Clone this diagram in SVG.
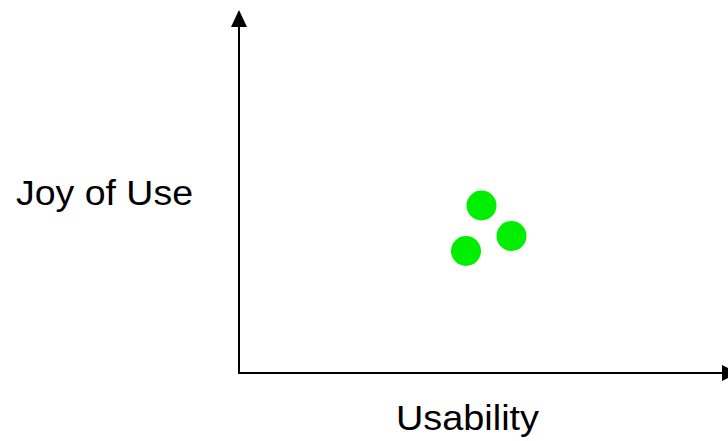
<svg xmlns="http://www.w3.org/2000/svg" width="728" height="441" viewBox="0 0 728 441">
  <style>
    .axis { stroke: #000; stroke-width: 2; fill: none; }
    .head { fill: #000; }
    .label { font-family: "Liberation Sans", Arial, sans-serif; font-size: 35px; fill: #000; }
    .dot { fill: #00ee00; }
  </style>
  <rect width="728" height="441" fill="#fff"/>
  <g id="connectors">
    <line class="axis" x1="239" y1="374" x2="239" y2="24"/>
    <polygon class="head" points="239,10 231,27 247,27"/>
    <line class="axis" x1="238" y1="373" x2="724" y2="373"/>
    <polygon class="head" points="738,373 722,365 722,381"/>
  </g>
  <g id="label-y"><text class="label" x="16" y="204.5" textLength="177" lengthAdjust="spacingAndGlyphs">Joy of Use</text></g>
  <g id="label-x"><text class="label" x="396" y="429.5" textLength="143" lengthAdjust="spacingAndGlyphs">Usability</text></g>
  <g id="dot-1"><circle class="dot" cx="481.5" cy="205.5" r="15"/></g>
  <g id="dot-2"><circle class="dot" cx="511.5" cy="236" r="15"/></g>
  <g id="dot-3"><circle class="dot" cx="466" cy="251" r="15"/></g>
</svg>
